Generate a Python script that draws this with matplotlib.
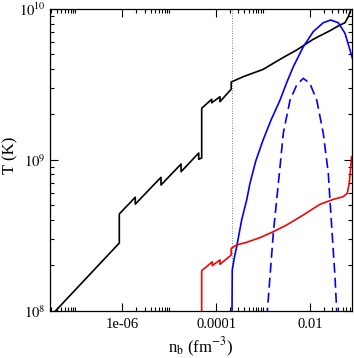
import matplotlib
matplotlib.use("Agg")
import matplotlib.pyplot as plt
from matplotlib.ticker import FixedLocator, FixedFormatter, NullFormatter

plt.rcParams['font.family'] = ['Liberation Serif', 'DejaVu Serif']
plt.rcParams['mathtext.fontset'] = 'stix'

# black curve (crust temperature vs density)
nb_black = [3.8e-8, 8.63e-7, 8.63e-7, 1.89e-6, 1.89e-6, 6.68e-6, 6.68e-6, 1.79e-5, 1.79e-5,
            4.26e-5, 4.26e-5, 4.93e-5, 4.93e-5, 8.05e-5, 8.05e-5, 1.21e-4, 1.21e-4, 2.1e-4, 2.1e-4,
            3.8e-4, 1.01e-3, 2.31e-3, 5.23e-3, 1.18e-2, 2.68e-2, 4.38e-2, 5.61e-2, 6.59e-2, 7.42e-2, 7.9e-2]
T_black = [1.0e8, 2.81e8, 4.38e8, 5.65e8, 5.09e8, 7.66e8, 6.81e8, 9.38e8, 8.34e8,
           1.11e9, 1.008e9, 1.03e9, 2.20e9, 2.52e9, 2.39e9, 2.62e9, 2.43e9, 2.94e9, 3.28e9,
           3.56e9, 3.98e9, 4.64e9, 5.35e9, 6.30e9, 7.18e9, 7.83e9, 8.11e9, 8.89e9, 9.85e9, 1.06e10]

# red curve
nb_red = [4.93e-5, 4.93e-5, 8.30e-5, 8.30e-5, 1.21e-4, 1.21e-4, 2.1e-4, 2.1e-4, 2.75e-4, 4.49e-4,
          8.63e-4, 1.66e-3, 3.20e-3, 7.23e-3, 1.64e-2, 3.16e-2, 5.13e-2, 6.27e-2, 6.92e-2, 7.78e-2]
T_red = [9.0e7, 1.84e8, 2.11e8, 1.99e8, 2.17e8, 2.03e8, 2.34e8, 2.59e8, 2.73e8, 2.84e8,
         3.05e8, 3.34e8, 3.70e8, 4.31e8, 5.07e8, 5.47e8, 5.70e8, 6.00e8, 7.00e8, 1.05e9]

# blue solid curve
nb_blue = [2.18e-4, 2.21e-4, 2.45e-4, 2.75e-4, 3.1e-4, 3.51e-4, 4.0e-4, 4.49e-4, 5.28e-4, 7.0e-4,
           1.01e-3, 1.5e-3, 2.31e-3, 3.2e-3, 4.43e-3, 7.23e-3, 1.18e-2, 1.93e-2, 2.78e-2, 4.04e-2,
           5.61e-2, 7.16e-2, 8.2e-2]
T_blue = [9.0e7, 1.86e8, 2.25e8, 2.66e8, 3.25e8, 3.99e8, 4.7e8, 5.42e8, 7.0e8, 9.8e8,
          1.36e9, 1.85e9, 2.49e9, 3.25e9, 4.14e9, 5.62e9, 7.08e9, 8.11e9, 8.45e9, 8.11e9,
          6.90e9, 5.35e9, 4.64e9]

# blue dashed curve
nb_dash = [1.20e-3, 1.24e-3, 1.66e-3, 2.31e-3, 2.71e-3, 3.77e-3, 5.23e-3, 7.23e-3, 1.00e-2,
           1.40e-2, 1.93e-2, 2.47e-2, 2.68e-2, 3.43e-2, 3.73e-2, 3.8e-2]
T_dash = [9.0e7, 1.0e8, 3.26e8, 9.02e8, 1.50e9, 2.49e9, 3.13e9, 3.47e9, 3.21e9,
          2.49e9, 1.50e9, 8.15e8, 5.42e8, 1.68e8, 1.0e8, 9.0e7]

nb_drip = 2.18e-4

xticks = [1e-6, 1e-4, 1e-2]
xticklabels = ["1e-06", "0.0001", "0.01"]
yticks = [1e8, 1e9, 1e10]
yticklabels = [r"$10^{8}$", r"$10^{9}$", r"$10^{10}$"]

fig = plt.figure(figsize=(3.54, 3.58), dpi=100)
ax = fig.add_axes([50 / 354, 1 - 310.7 / 358, 302 / 354, 301.7 / 358])

ax.axvline(nb_drip, color='0.35', lw=0.6, ls=(0, (1, 2)), zorder=1)
ax.plot(nb_black, T_black, color='black', lw=1.2)
ax.plot(nb_blue, T_blue, color='blue', lw=1.2)
ax.plot(nb_dash, T_dash, color='blue', lw=1.2, ls=(0, (6, 3)))
ax.plot(nb_red, T_red, color='red', lw=1.2)

ax.set_xscale('log')
ax.set_yscale('log')
ax.set_xlim(2.87e-8, 0.0791)
ax.set_ylim(1e8, 1e10)

ax.xaxis.set_major_locator(FixedLocator(xticks))
ax.xaxis.set_major_formatter(FixedFormatter(xticklabels))
xminor = [k * 10.0 ** e for e in (-8, -6, -4, -2) for k in range(2, 11)]
ax.xaxis.set_minor_locator(FixedLocator(xminor))
ax.xaxis.set_minor_formatter(NullFormatter())

ax.yaxis.set_major_locator(FixedLocator(yticks))
ax.yaxis.set_major_formatter(FixedFormatter(yticklabels))
yminor = [k * 10.0 ** e for e in (8, 9) for k in range(2, 10)]
ax.yaxis.set_minor_locator(FixedLocator(yminor))
ax.yaxis.set_minor_formatter(NullFormatter())

ax.tick_params(which='both', direction='in', top=True, right=True, width=0.8)
ax.tick_params(which='major', length=5.8, labelsize=10.5)
ax.tick_params(which='minor', length=3)
ax.tick_params(axis='x', pad=5)
ax.tick_params(axis='y', pad=3)
for s in ax.spines.values():
    s.set_linewidth(0.9)

ax.set_xlabel(r"n$_\mathrm{b}$ (fm$^{-3}$)", fontsize=12, labelpad=4)
ax.set_ylabel("T (K)", fontsize=12)
ax.yaxis.set_label_coords(-0.104, 0.516)

fig.savefig("out.png", dpi=100)
